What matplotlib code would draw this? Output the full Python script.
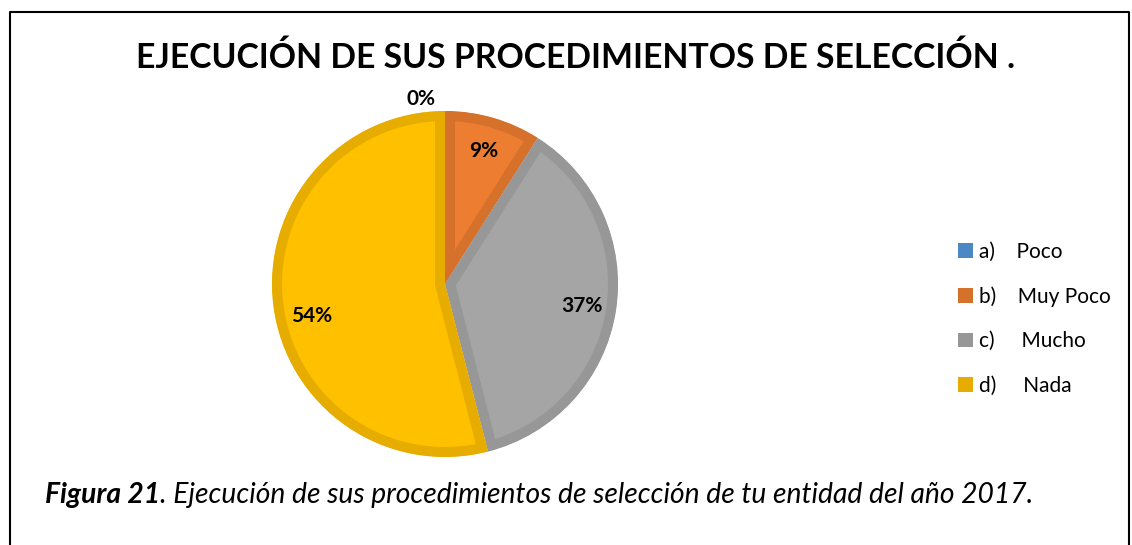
import matplotlib
matplotlib.use('Agg')
import matplotlib.pyplot as plt
from matplotlib.patches import Patch
from matplotlib.lines import Line2D

# ---- data ----
categories = ['a)    Poco', 'b)    Muy Poco', 'c)     Mucho', 'd)     Nada']
values = [0, 9, 37, 54]
title = 'EJECUCIÓN DE SUS PROCEDIMIENTOS DE SELECCIÓN .'
caption_bold = 'Figura 21'
caption_rest = '. Ejecución de sus procedimientos de selección de tu entidad del año 2017.'

# ---- style ----
fills = ['#5B9BD5', '#ED7D31', '#A5A5A5', '#FFC000']
edges = ['#4E88C4', '#D6712C', '#979797', '#E6AD00']

plt.rcParams['font.family'] = ['Lato', 'DejaVu Sans']
W, H = 1132, 545
fig = plt.figure(figsize=(W / 100, H / 100), dpi=100)

cx, cy, R = 445, 284, 173  # pixels
lim = 1.2
ax = fig.add_axes([(cx - R * lim) / W, (H - cy - R * lim) / H,
                   2 * R * lim / W, 2 * R * lim / H])

wedges, texts, autotexts = ax.pie(
    values, colors=fills, startangle=90, counterclock=False, radius=1,
    autopct='%.0f%%', pctdistance=0.8,
    textprops=dict(fontsize=15, fontweight='bold', color='black'))
ax.set_xlim(-lim, lim)
ax.set_ylim(-lim, lim)
ax.set_aspect('equal')
ax.axis('off')

# inner stroke: double-width edge clipped to the wedge itself
for w, ec in zip(wedges, edges):
    w.set_edgecolor(ec)
    w.set_linewidth(20 * 72 / 100)
    w.set_joinstyle('miter')
    w.set_clip_on(True)
    w.set_clip_path(w)

# label placement tweaks (zero slice outside the top, 54% slightly lower)
autotexts[0].set_position((-0.14, 1.07))
autotexts[3].set_position((-0.77, -0.185))

handles = [Patch(facecolor=ec, edgecolor='none') for ec in edges]
fig.legend(handles, categories, loc='upper left',
           bbox_to_anchor=(958 / W, 1 - 242 / H), frameon=False, fontsize=15,
           handlelength=0.7, handleheight=0.7, handletextpad=0.3,
           labelspacing=1.17, borderpad=0, borderaxespad=0)

# frame lines
fig.add_artist(Line2D([10 / W, 10 / W, 1129 / W, 1129 / W],
                      [0, 1 - 12 / H, 1 - 12 / H, 0],
                      color='black', lw=1.5, transform=fig.transFigure))

t = fig.text(576 / W, 1 - 68 / H, title, ha='center', va='baseline',
             fontsize=23, fontweight='bold')
c1 = fig.text(45 / W, 1 - 503 / H, caption_bold, fontsize=20,
              fontweight='bold', style='italic', va='baseline', ha='left')
c2 = fig.text(0, 1 - 503 / H, caption_rest, fontsize=20, style='italic',
              va='baseline', ha='left')

fig.canvas.draw()
r = fig.canvas.get_renderer()
tw = t.get_window_extent(r).width
t.set_fontsize(23 * 882 / tw)
cw = c1.get_window_extent(r).width + c2.get_window_extent(r).width
fs = 20 * 985 / cw
c1.set_fontsize(fs)
c2.set_fontsize(fs)
fig.canvas.draw()
e1 = c1.get_window_extent(r)
c2.set_x(e1.x1 / W)

fig.savefig('out.png', dpi=100)
